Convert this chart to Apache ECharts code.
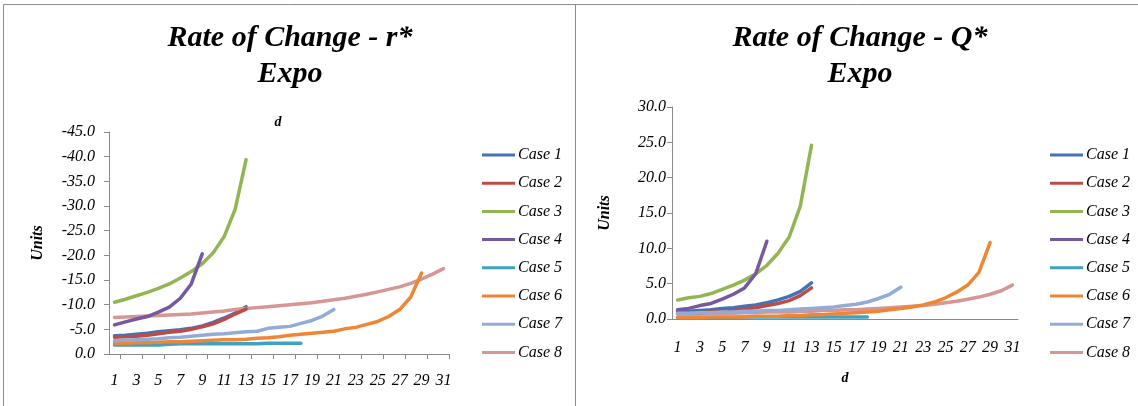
<!DOCTYPE html>
<html>
<head>
<meta charset="utf-8">
<script src="https://cdn.jsdelivr.net/npm/echarts@6/dist/echarts.min.js"></script>
<style>
  html, body { margin: 0; padding: 0; background: #fff; }
  #chart { width: 1138px; height: 406px; }
</style>
</head>
<body>
<div id="chart"></div>
<script>
// ---------- data ----------
const categories = ['1','2','3','4','5','6','7','8','9','10','11','12','13','14','15','16','17','18','19','20','21','22','23','24','25','26','27','28','29','30','31'];
const seriesNames = ['Case 1','Case 2','Case 3','Case 4','Case 5','Case 6','Case 7','Case 8'];

// Rate of Change - r*  (left chart, values are negative)
const r_case1 = [-3.7,-3.8,-4.0,-4.2,-4.5,-4.7,-4.9,-5.2,-5.7,-6.4,-7.3,-8.3,-9.6];
const r_case2 = [-3.4,-3.5,-3.6,-3.8,-4.1,-4.4,-4.6,-5.0,-5.5,-6.1,-7.0,-8.1,-9.1];
const r_case3 = [-10.5,-11.1,-11.8,-12.5,-13.3,-14.2,-15.4,-16.7,-18.3,-20.5,-23.8,-29.3,-39.4];
const r_case4 = [-5.9,-6.5,-7.1,-7.6,-8.5,-9.5,-11.3,-14.2,-20.3];
const r_case5 = [-1.8,-1.8,-1.8,-1.8,-1.8,-2.0,-2.1,-2.1,-2.1,-2.1,-2.1,-2.1,-2.1,-2.1,-2.2,-2.2,-2.2,-2.2];
const r_case6 = [-2.2,-2.2,-2.3,-2.3,-2.4,-2.5,-2.5,-2.6,-2.7,-2.8,-2.9,-2.9,-3.0,-3.2,-3.3,-3.5,-3.8,-4.0,-4.2,-4.4,-4.6,-5.1,-5.4,-6.0,-6.6,-7.6,-9.0,-11.5,-16.4];
const r_case7 = [-2.7,-2.8,-2.9,-3.0,-3.1,-3.3,-3.4,-3.6,-3.8,-4.0,-4.1,-4.3,-4.5,-4.6,-5.2,-5.4,-5.6,-6.2,-6.8,-7.7,-9.0];
const r_case8 = [-7.4,-7.5,-7.6,-7.7,-7.8,-7.9,-8.0,-8.1,-8.3,-8.5,-8.7,-9.0,-9.2,-9.4,-9.6,-9.8,-10.0,-10.2,-10.4,-10.7,-11.0,-11.3,-11.7,-12.1,-12.6,-13.1,-13.6,-14.3,-15.2,-16.2,-17.3];

// Rate of Change - Q*  (right chart)
const q_case1 = [1.1,1.1,1.2,1.3,1.5,1.6,1.8,2.0,2.3,2.7,3.2,3.9,5.1];
const q_case2 = [0.9,0.9,0.9,1.0,1.1,1.2,1.4,1.6,1.9,2.2,2.6,3.3,4.4];
const q_case3 = [2.7,3.0,3.2,3.6,4.2,4.8,5.5,6.4,7.6,9.3,11.6,16.0,24.6];
const q_case4 = [1.3,1.5,1.9,2.2,2.8,3.5,4.4,6.4,11.0];
const q_case5 = [0.2,0.2,0.2,0.2,0.2,0.2,0.3,0.3,0.3,0.3,0.3,0.3,0.3,0.3,0.3,0.3,0.3,0.3];
const q_case6 = [0.2,0.2,0.2,0.3,0.3,0.3,0.3,0.4,0.4,0.4,0.5,0.5,0.6,0.6,0.7,0.8,0.9,1.0,1.1,1.3,1.5,1.7,2.0,2.4,3.0,3.8,4.8,6.6,10.8];
const q_case7 = [0.8,0.8,0.9,0.9,1.0,1.0,1.1,1.1,1.2,1.2,1.3,1.4,1.5,1.6,1.7,1.9,2.1,2.4,2.9,3.5,4.5];
const q_case8 = [0.7,0.7,0.7,0.8,0.8,0.8,0.9,0.9,1.0,1.0,1.0,1.1,1.1,1.2,1.2,1.3,1.3,1.4,1.5,1.6,1.7,1.8,1.9,2.1,2.3,2.5,2.8,3.1,3.5,4.0,4.8];

const leftData = [r_case1, r_case2, r_case3, r_case4, r_case5, r_case6, r_case7, r_case8];
const rightData = [q_case1, q_case2, q_case3, q_case4, q_case5, q_case6, q_case7, q_case8];

// ---------- styles ----------
const colors = ['#4473B4','#BE4B48','#93B553','#7558A0','#3FA2BF','#EE8636','#92ACD8','#D69693'];
const serif = '"Liberation Serif", "Times New Roman", serif';
const axisGray = '#8a8a8a';

const chart = echarts.init(document.getElementById('chart'), null, { renderer: 'canvas' });

function mkSeries(dataSets, axisIdx) {
  return dataSets.map((d, i) => ({
    name: seriesNames[i],
    type: 'line',
    xAxisIndex: axisIdx,
    yAxisIndex: axisIdx,
    data: d,
    symbol: 'none',
    showSymbol: false,
    smooth: false,
    color: colors[i],
    lineStyle: { width: 3.5, color: colors[i], cap: 'round', join: 'round' },
    emphasis: { disabled: true },
    animation: false,
    z: 2 + (i === 7 ? 0 : i)
  }));
}

const labelFont = { fontFamily: serif, fontStyle: 'italic', fontSize: 16, color: '#000' };
const nameFont = { fontFamily: serif, fontStyle: 'italic', fontWeight: 'bold', fontSize: 16, color: '#000' };

const legendBase = {
  orient: 'vertical',
  icon: 'rect',
  itemWidth: 33,
  itemHeight: 3,
  itemGap: 10.2,
  selectedMode: false,
  data: seriesNames,
  textStyle: Object.assign({}, labelFont, { lineHeight: 18, padding: [0, 0, 0, -2] })
};

const option = {
  animation: false,
  backgroundColor: '#fff',
  graphic: [
    { type: 'rect', shape: { x: 3.5, y: 4.5, width: 572, height: 430 }, style: { fill: 'none', stroke: '#8c8c8c', lineWidth: 1 }, z: 0 },
    { type: 'rect', shape: { x: 575.5, y: 4.5, width: 600, height: 430 }, style: { fill: 'none', stroke: '#8c8c8c', lineWidth: 1 }, z: 0 },
    { type: 'text', x: 290, y: 20, style: { text: 'Rate of Change - r*\nExpo', align: 'center', verticalAlign: 'top', font: 'italic bold 30px ' + serif, lineHeight: 36, fill: '#000' } },
    { type: 'text', x: 860, y: 20, style: { text: 'Rate of Change - Q*\nExpo', align: 'center', verticalAlign: 'top', font: 'italic bold 30px ' + serif, lineHeight: 36, fill: '#000' } },
    { type: 'text', x: 278, y: 122, style: { text: 'd', align: 'center', verticalAlign: 'middle', font: 'italic bold 14px ' + serif, fill: '#000' } }
  ],
  grid: [
    { left: 109, top: 132, width: 340, height: 222 },
    { left: 672, top: 107, width: 346, height: 212 }
  ],
  xAxis: [
    {
      gridIndex: 0, type: 'category', data: categories, boundaryGap: true,
      axisLine: { lineStyle: { color: axisGray, width: 1 } },
      axisTick: { show: true, length: 5, interval: (idx) => idx % 2 === 1, lineStyle: { color: axisGray } },
      axisLabel: Object.assign({ interval: 1, margin: 19 }, labelFont),
      splitLine: { show: false }
    },
    {
      gridIndex: 1, type: 'category', data: categories, boundaryGap: true,
      name: 'd', nameLocation: 'middle', nameGap: 52, nameTextStyle: Object.assign({}, nameFont, { fontSize: 14 }),
      axisLine: { lineStyle: { color: axisGray, width: 1 } },
      axisTick: { show: false },
      axisLabel: Object.assign({ interval: 1, margin: 21 }, labelFont),
      splitLine: { show: false }
    }
  ],
  yAxis: [
    {
      gridIndex: 0, type: 'value', min: -45, max: 0, interval: 5, inverse: true,
      name: 'Units', nameLocation: 'middle', nameGap: 63, nameTextStyle: nameFont,
      axisLine: { show: true, lineStyle: { color: axisGray, width: 1 } },
      axisTick: { show: true, length: 5, lineStyle: { color: axisGray } },
      axisLabel: Object.assign({ margin: 14, formatter: (v) => v.toFixed(1) }, labelFont),
      splitLine: { show: false }
    },
    {
      gridIndex: 1, type: 'value', min: 0, max: 30, interval: 5,
      name: 'Units', nameLocation: 'middle', nameGap: 59, nameTextStyle: nameFont,
      axisLine: { show: true, lineStyle: { color: axisGray, width: 1 } },
      axisTick: { show: true, length: 5, lineStyle: { color: axisGray } },
      axisLabel: Object.assign({ margin: 6, formatter: (v) => v.toFixed(1) }, labelFont),
      splitLine: { show: false }
    }
  ],
  legend: [
    Object.assign({}, legendBase, { left: 477, top: 141 }),
    Object.assign({}, legendBase, { left: 1045, top: 141 })
  ],
  series: mkSeries(leftData, 0).concat(mkSeries(rightData, 1))
};

chart.setOption(option);
</script>
</body>
</html>
